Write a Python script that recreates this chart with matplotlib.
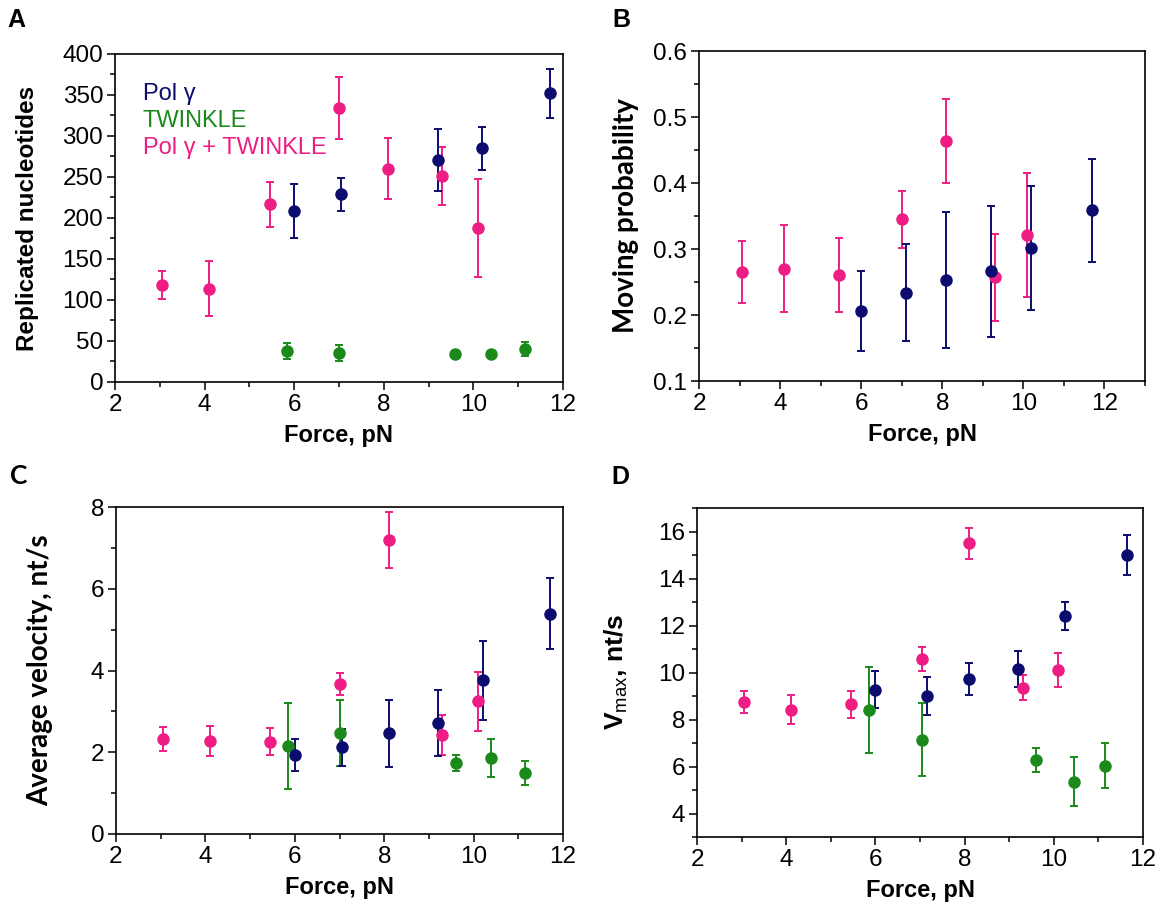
import numpy as np
import matplotlib.pyplot as plt
from matplotlib.lines import Line2D
from matplotlib.ticker import MultipleLocator

plt.rcParams['font.family'] = ['Liberation Sans', 'DejaVu Sans']
plt.rcParams['mathtext.fontset'] = 'custom'
plt.rcParams['mathtext.rm'] = 'Liberation Sans'
plt.rcParams['mathtext.bf'] = 'Liberation Sans:bold'

# ---------------------------------------------------------------
# DATA  (force in pN, value, error)
# ---------------------------------------------------------------

# A: replicated nucleotides
a_pol_x = [6.0, 7.05, 9.2, 10.2, 11.7]
a_pol_y = [208, 229, 271, 285, 352]
a_pol_e = [33, 20, 38, 26, 30]
a_twk_x = [5.85, 7.0, 9.6, 10.4, 11.15]
a_twk_y = [38, 35, 34, 34, 40]
a_twk_e = [10, 10, 4, 4, 8.5]
a_mix_x = [3.05, 4.1, 5.45, 7.0, 8.1, 9.3, 10.1]
a_mix_y = [118, 114, 217, 334, 260, 251, 188]
a_mix_e = [17, 33, 27.5, 38, 37, 35, 60]

# B: moving probability
b_pol_x = [6.0, 7.1, 8.1, 9.2, 10.2, 11.7]
b_pol_y = [0.206, 0.234, 0.253, 0.266, 0.302, 0.359]
b_pol_e = [0.061, 0.074, 0.103, 0.099, 0.094, 0.078]
b_mix_x = [3.05, 4.1, 5.45, 7.0, 8.1, 9.3, 10.1]
b_mix_y = [0.265, 0.270, 0.260, 0.345, 0.464, 0.257, 0.321]
b_mix_e = [0.047, 0.066, 0.056, 0.043, 0.064, 0.066, 0.094]

# C: average velocity
c_pol_x = [6.0, 7.05, 8.1, 9.2, 10.2, 11.7]
c_pol_y = [1.93, 2.12, 2.46, 2.72, 3.76, 5.39]
c_pol_e = [0.40, 0.46, 0.82, 0.81, 0.97, 0.87]
c_twk_x = [5.85, 7.0, 9.6, 10.4, 11.15]
c_twk_y = [2.16, 2.48, 1.74, 1.86, 1.50]
c_twk_e = [1.05, 0.81, 0.20, 0.47, 0.29]
c_mix_x = [3.05, 4.1, 5.45, 7.0, 8.1, 9.3, 10.1]
c_mix_y = [2.32, 2.27, 2.26, 3.67, 7.19, 2.42, 3.25]
c_mix_e = [0.29, 0.37, 0.33, 0.28, 0.69, 0.48, 0.72]

# D: maximal velocity
d_pol_x = [6.0, 7.15, 8.1, 9.2, 10.25, 11.65]
d_pol_y = [9.27, 9.0, 9.72, 10.16, 12.4, 15.0]
d_pol_e = [0.79, 0.82, 0.69, 0.77, 0.59, 0.83]
d_twk_x = [5.85, 7.05, 9.6, 10.45, 11.15]
d_twk_y = [8.42, 7.14, 6.27, 5.35, 6.03]
d_twk_e = [1.83, 1.55, 0.52, 1.04, 0.96]
d_mix_x = [3.05, 4.1, 5.45, 7.05, 8.1, 9.3, 10.1]
d_mix_y = [8.73, 8.42, 8.65, 10.59, 15.5, 9.36, 10.09]
d_mix_e = [0.47, 0.63, 0.57, 0.51, 0.65, 0.54, 0.72]

names = ['Pol \u03b3', 'TWINKLE', 'Pol \u03b3 + TWINKLE']
c_pol = '#0c0c70'
c_twk = '#1b8a1b'
c_mix = '#ee1d84'

# ---------------------------------------------------------------
# FIGURE
# ---------------------------------------------------------------

W, H = 1165, 906
fig = plt.figure(figsize=(W / 100, H / 100), dpi=100)


def make_axes(left, top, right, bottom):
    return fig.add_axes([left / W, 1 - bottom / H,
                         (right - left) / W, (bottom - top) / H])


def draw(ax, x, y, e, color):
    ax.errorbar(x, y, yerr=e, fmt='o', color=color, ms=8,
                elinewidth=1.4, capsize=3.2, capthick=1.4, zorder=3)


def style(ax, xlim, ylim, ymajor, yminor):
    ax.set_xlim(*xlim)
    ax.set_ylim(*ylim)
    ax.xaxis.set_major_locator(MultipleLocator(2))
    ax.xaxis.set_minor_locator(MultipleLocator(1))
    ax.yaxis.set_major_locator(MultipleLocator(ymajor))
    ax.yaxis.set_minor_locator(MultipleLocator(yminor))
    ax.tick_params(which='both', direction='out', top=False, right=False,
                   width=1.1, labelsize=17.5)
    ax.tick_params(which='major', length=5.5)
    ax.tick_params(which='minor', length=3.5)
    ax.tick_params(axis='y', pad=3)
    ax.tick_params(axis='x', pad=3)
    for s in ax.spines.values():
        s.set_linewidth(1.2)


ax_a = make_axes(115, 54, 563, 382)
ax_b = make_axes(699, 51, 1145, 381)
ax_c = make_axes(116, 507, 563, 834)
ax_d = make_axes(697, 508, 1143, 837)

# A
draw(ax_a, a_mix_x, a_mix_y, a_mix_e, c_mix)
draw(ax_a, a_twk_x, a_twk_y, a_twk_e, c_twk)
draw(ax_a, a_pol_x, a_pol_y, a_pol_e, c_pol)
style(ax_a, (2, 12), (0, 400), 50, 25)
ax_a.set_ylabel('Replicated nucleotides', fontsize=17.5, fontweight='bold')
ax_a.yaxis.set_label_coords(-0.17, 0.5)

handles = [Line2D([], [], ls='none') for _ in names]
leg = ax_a.legend(handles, names, loc='upper left', frameon=False,
                  handlelength=0, handletextpad=0, labelspacing=0.2,
                  fontsize=17, labelcolor=[c_pol, c_twk, c_mix],
                  bbox_to_anchor=(0.015, 0.975))

# B
draw(ax_b, b_mix_x, b_mix_y, b_mix_e, c_mix)
draw(ax_b, b_pol_x, b_pol_y, b_pol_e, c_pol)
style(ax_b, (2, 13), (0.1, 0.6), 0.1, 0.05)
ax_b.yaxis.set_major_formatter(plt.FormatStrFormatter('%.1f'))
ax_b.set_ylabel('Moving probability', fontsize=20, fontweight='bold',
                family=['Lato', 'DejaVu Sans'])
ax_b.yaxis.set_label_coords(-0.135, 0.5)

# C
draw(ax_c, c_mix_x, c_mix_y, c_mix_e, c_mix)
draw(ax_c, c_twk_x, c_twk_y, c_twk_e, c_twk)
draw(ax_c, c_pol_x, c_pol_y, c_pol_e, c_pol)
style(ax_c, (2, 12), (0, 8), 2, 1)
ax_c.set_ylabel('Average velocity, nt/s', fontsize=20, fontweight='bold',
                family=['Lato', 'DejaVu Sans'])
ax_c.yaxis.set_label_coords(-0.14, 0.5)

# D
draw(ax_d, d_mix_x, d_mix_y, d_mix_e, c_mix)
draw(ax_d, d_twk_x, d_twk_y, d_twk_e, c_twk)
draw(ax_d, d_pol_x, d_pol_y, d_pol_e, c_pol)
style(ax_d, (2, 12), (3, 17), 2, 1)
ax_d.set_ylabel(r'$\mathbf{V}_{\mathrm{max}}$, nt/s', fontsize=19,
                fontweight='bold')
ax_d.yaxis.set_label_coords(-0.15, 0.5)

for ax in (ax_a, ax_b, ax_c, ax_d):
    ax.set_xlabel('Force, pN', fontsize=17, fontweight='bold', labelpad=6)

# panel letters
fig.text(7 / W, 1 - 8 / H, 'A', fontsize=18, fontweight='bold', va='top')
fig.text(612 / W, 1 - 8 / H, 'B', fontsize=18, fontweight='bold', va='top')
fig.text(10 / W, 1 - 464 / H, 'C', fontsize=19, fontweight='bold', va='top',
         family=['Lato', 'DejaVu Sans'])
fig.text(611 / W, 1 - 465 / H, 'D', fontsize=18, fontweight='bold', va='top')

fig.savefig('out.png', dpi=100)
